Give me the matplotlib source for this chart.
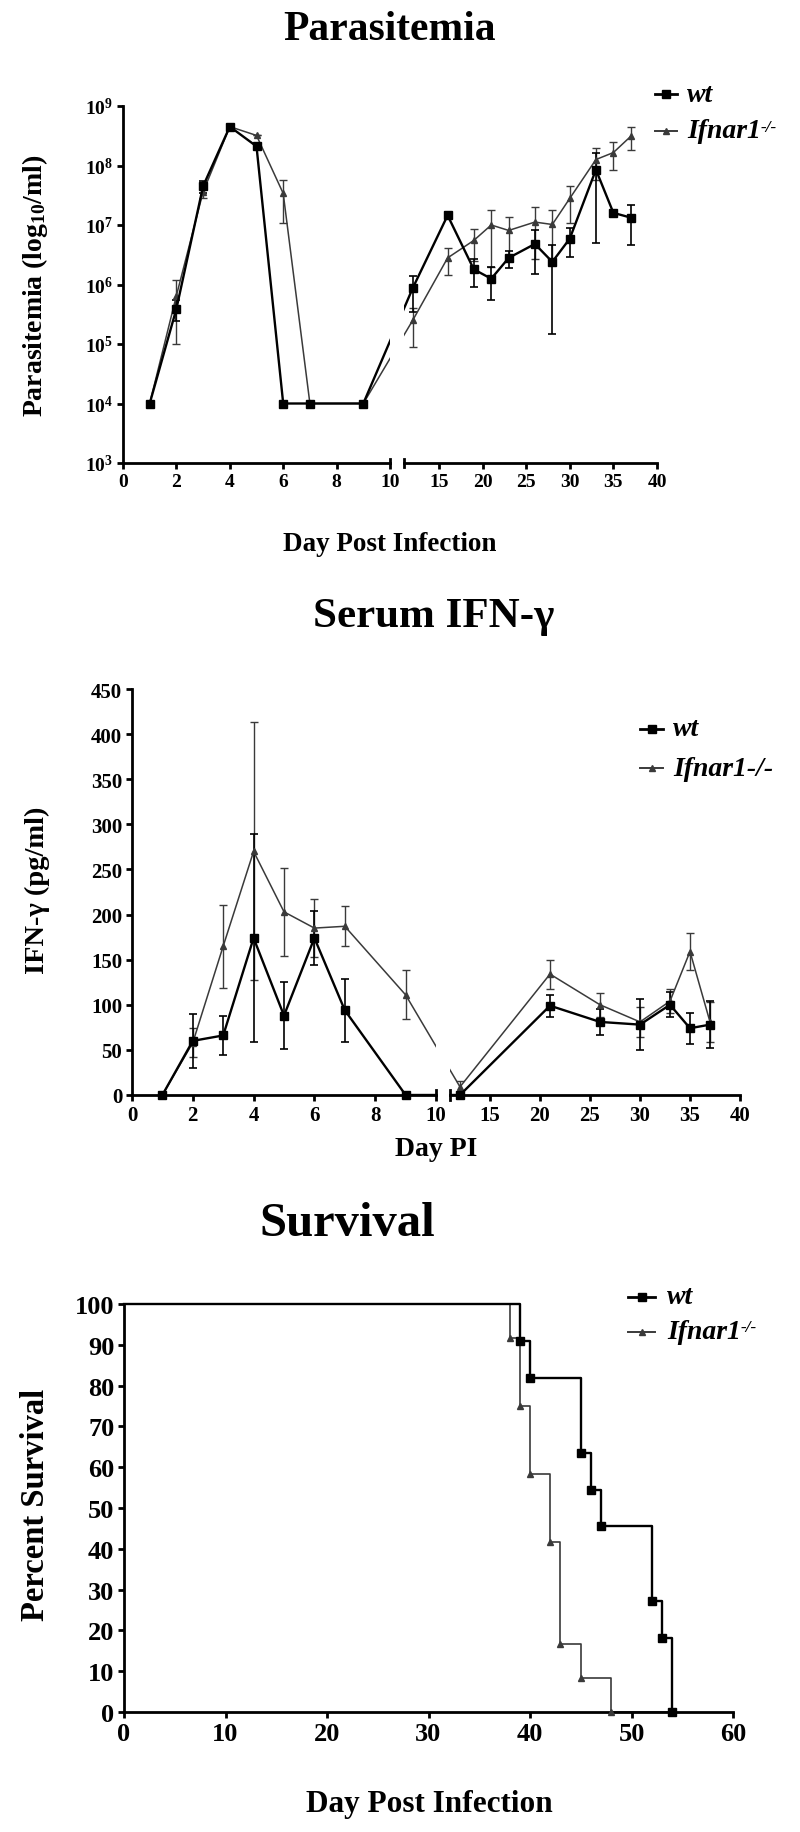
import matplotlib
matplotlib.use('Agg')
import matplotlib.pyplot as plt
from matplotlib.lines import Line2D

plt.rcParams['font.family'] = ['Liberation Serif', 'DejaVu Serif']
plt.rcParams['font.weight'] = 'bold'
plt.rcParams['mathtext.fontset'] = 'custom'
plt.rcParams['mathtext.rm'] = 'Liberation Serif:bold'
plt.rcParams['mathtext.it'] = 'Liberation Serif:bold:italic'
plt.rcParams['mathtext.bf'] = 'Liberation Serif:bold'
plt.rcParams['mathtext.default'] = 'rm'

# ---------------- data ----------------
series_names = ['wt', 'Ifnar1']

# Parasitemia (per ml), mean and SEM
para_days = [1, 2, 3, 4, 5, 6, 7, 9, 12, 16, 19, 21, 23, 26, 28, 30, 33, 35, 37]
para_wt = [1e4, 3.9e5, 4.5e7, 4.5e8, 2.1e8, 1e4, 1e4, 1e4, 8.7e5, 1.45e7, 1.8e6,
           1.25e6, 2.8e6, 4.8e6, 2.4e6, 5.9e6, 8.5e7, 1.6e7, 1.33e7]
para_wt_sem = [0, 1.5e5, 1e7, 0, 0, 0, 0, 0, 5.3e5, 2e6, 9e5, 7e5, 9e5, 3.3e6,
               2.25e6, 3e6, 8e7, 0, 8.7e6]
para_ko = [1e4, 6.5e5, 3.6e7, 4.5e8, 3.2e8, 3.4e7, 1e4, 1e4, 2.5e5, 2.8e6, 5.5e6,
           1e7, 8.1e6, 1.12e7, 1.02e7, 2.8e7, 1.26e8, 1.65e8, 3.1e8]
para_ko_sem = [0, 5.5e5, 8e6, 0, 0, 2.3e7, 0, 0, 1.6e5, 1.35e6, 3e6, 8e6, 5.5e6,
               8.5e6, 7.5e6, 1.7e7, 7e7, 8e7, 1.3e8]
para_ytick_exp = [3, 4, 5, 6, 7, 8, 9]

# Serum IFN-gamma (pg/ml), mean and SEM
ifn_days = [1, 2, 3, 4, 5, 6, 7, 9, 12, 21, 26, 30, 33, 35, 37]
ifn_wt = [0, 60, 66, 174, 88, 174, 94, 0, 0, 99, 81, 78, 100, 74, 78]
ifn_wt_sem = [0, 30, 22, 115, 37, 30, 35, 0, 0, 12, 14, 28, 14, 17, 26]
ifn_ko = [0, 58, 165, 270, 203, 185, 187, 111, 9, 134, 100, 81, 104, 159, 81]
ifn_ko_sem = [0, 16, 46, 143, 49, 32, 22, 27, 6, 16, 13, 17, 13, 21, 22]
ifn_yticks = [0, 50, 100, 150, 200, 250, 300, 350, 400, 450]

# Break axis ticks
left_xticks = [0, 2, 4, 6, 8, 10]
right_xticks = [15, 20, 25, 30, 35, 40]

# Survival (Kaplan-Meier steps)
surv_wt_days = [0, 39, 40, 45, 46, 47, 52, 53, 54]
surv_wt = [100, 90.9, 81.8, 63.6, 54.5, 45.5, 27.3, 18.2, 0]
surv_ko_days = [0, 38, 39, 40, 42, 43, 45, 48]
surv_ko = [100, 91.7, 75, 58.3, 41.7, 16.7, 8.3, 0]
surv_xticks = [0, 10, 20, 30, 40, 50, 60]
surv_yticks = [0, 10, 20, 30, 40, 50, 60, 70, 80, 90, 100]

# ---------------- styles ----------------
W, H = 800, 1833
fig = plt.figure(figsize=(W / 100, H / 100), dpi=100)

WT = dict(color='black', lw=1.7, marker='s', ms=5.5, mfc='black', mec='black')
KO = dict(color='#3a3a3a', lw=1.1, marker='^', ms=4.5, mfc='#3a3a3a', mec='#3a3a3a')


def rect(x0, x1, ytop, ybot):
    return [x0 / W, 1 - ybot / H, (x1 - x0) / W, (ybot - ytop) / H]


def style_axis(ax, tick_fs, left=True):
    for s in ['top', 'right']:
        ax.spines[s].set_visible(False)
    ax.spines['bottom'].set_linewidth(2)
    ax.spines['left'].set_linewidth(2)
    if not left:
        ax.spines['left'].set_visible(False)
        ax.tick_params(axis='y', left=False, labelleft=False)
    ax.tick_params(axis='both', direction='out', length=4, width=2,
                   labelsize=tick_fs, pad=3)
    ax.minorticks_off()
    for lab in ax.get_xticklabels() + ax.get_yticklabels():
        lab.set_fontweight('bold')


def draw_series(axL, axR, x, y, sem, st, elw, cap):
    xl = [a for a in x if a <= 10]
    n = len(xl)
    kw = dict(color=st['color'], lw=st['lw'], marker=st['marker'], ms=st['ms'],
              mfc=st['mfc'], mec=st['mec'], ecolor=st['color'], elinewidth=elw,
              capsize=cap, capthick=elw, clip_on=False, zorder=3)
    axL.errorbar(x[:n], y[:n], yerr=sem[:n], **kw)
    axR.errorbar(x[n:], y[n:], yerr=sem[n:], **kw)
    # connecting segment drawn straight on screen across the break
    pL = axL.transData.transform((x[n - 1], y[n - 1]))
    pR = axR.transData.transform((x[n], y[n]))
    rInL = axL.transData.inverted().transform(pR)
    lInR = axR.transData.inverted().transform(pL)
    axL.plot([x[n - 1], rInL[0]], [y[n - 1], rInL[1]], color=st['color'],
             lw=st['lw'], zorder=2)
    axR.plot([lInR[0], x[n]], [lInR[1], y[n]], color=st['color'],
             lw=st['lw'], zorder=2)


def break_marks(axL, axR):
    axL.add_line(Line2D([1, 1], [0, 0.012], transform=axL.transAxes, color='black',
                        lw=2, clip_on=False))
    axR.add_line(Line2D([0, 0], [-0.012, 0.012], transform=axR.transAxes,
                        color='black', lw=2, clip_on=False))


def legend(ax, x0, x1, xt, y1, y2, label2, sup, fs):
    for yy, st, lab, sp in [(y1, WT, 'wt', None), (y2, KO, label2, sup)]:
        yf = 1 - yy / H
        fig.add_artist(Line2D([x0 / W, x1 / W], [yf, yf], color=st['color'],
                              lw=st['lw'] + 0.3, transform=fig.transFigure))
        fig.add_artist(Line2D([(x0 + x1) / 2 / W], [yf], marker=st['marker'],
                              ms=st['ms'], color=st['color'],
                              transform=fig.transFigure))
        t = fig.text(xt / W, yf, lab, fontsize=fs, fontstyle='italic',
                     fontweight='bold', va='center', ha='left')
        if sp:
            ax.annotate(sp, xy=(1.0, 1.0), xycoords=t, ha='left', va='top',
                        fontsize=fs * 0.62, fontstyle='italic', fontweight='bold',
                        annotation_clip=False)


# ---------------- Panel 1: Parasitemia ----------------
a1L = fig.add_axes(rect(123, 390, 107, 464))
a1R = fig.add_axes(rect(404, 657, 107, 464))
for ax in (a1L, a1R):
    ax.set_yscale('log')
    ax.set_ylim(1e3, 1e9)
a1L.set_xlim(0, 10)
a1R.set_xlim(11, 40)
a1L.set_xticks(left_xticks)
a1R.set_xticks(right_xticks)
a1L.set_yticks([10.0 ** e for e in para_ytick_exp])
a1L.set_yticklabels(['$10^{%d}$' % e for e in para_ytick_exp])
style_axis(a1L, 14)
style_axis(a1R, 14, left=False)
a1R.yaxis.set_minor_locator(matplotlib.ticker.NullLocator())
a1L.yaxis.set_minor_locator(matplotlib.ticker.NullLocator())
draw_series(a1L, a1R, para_days, para_ko, para_ko_sem, KO, 1.0, 3)
draw_series(a1L, a1R, para_days, para_wt, para_wt_sem, WT, 1.2, 3)
break_marks(a1L, a1R)
fig.text(390 / W, 1 - 30 / H, 'Parasitemia', fontsize=30, fontweight='bold',
         ha='center', va='center')
fig.text(390 / W, 1 - 545 / H, 'Day Post Infection', fontsize=19.5,
         fontweight='bold', ha='center', va='center')
fig.text(35 / W, 1 - 286 / H, 'Parasitemia (log$_{10}$/ml)', fontsize=20,
         fontweight='bold', ha='center', va='center', rotation=90)
legend(a1R, 655, 677, 687, 95, 132, 'Ifnar1', '-/-', 20)

# ---------------- Panel 2: Serum IFN-gamma ----------------
a2L = fig.add_axes(rect(132, 436, 690, 1096))
a2R = fig.add_axes(rect(450, 740, 690, 1096))
for ax in (a2L, a2R):
    ax.set_ylim(0, 450)
a2L.set_xlim(0, 10)
a2R.set_xlim(11, 40)
a2L.set_xticks(left_xticks)
a2R.set_xticks(right_xticks)
a2L.set_yticks(ifn_yticks)
style_axis(a2L, 15)
style_axis(a2R, 15, left=False)
draw_series(a2L, a2R, ifn_days, ifn_ko, ifn_ko_sem, KO, 1.0, 3)
draw_series(a2L, a2R, ifn_days, ifn_wt, ifn_wt_sem, WT, 1.2, 3)
break_marks(a2L, a2R)
fig.text(434 / W, 1 - 617 / H, 'Serum IFN-γ', fontsize=31, fontweight='bold',
         ha='center', va='center')
fig.text(436 / W, 1 - 1150 / H, 'Day PI', fontsize=20, fontweight='bold',
         ha='center', va='center')
fig.text(37 / W, 1 - 890 / H, 'IFN-γ (pg/ml)', fontsize=20.5,
         fontweight='bold', ha='center', va='center', rotation=90)
legend(a2R, 640, 663, 673, 730, 769, 'Ifnar1-/-', None, 20)

# ---------------- Panel 3: Survival ----------------
a3 = fig.add_axes(rect(124, 733, 1305, 1713))
a3.step(surv_ko_days + [54], surv_ko + [0], where='post', color=KO['color'],
        lw=1.2, clip_on=False, zorder=2)
a3.plot(surv_ko_days[1:], surv_ko[1:], ls='none', marker='^', ms=4.5,
        color=KO['color'], clip_on=False, zorder=3)
a3.step(surv_wt_days, surv_wt, where='post', color='black', lw=1.7,
        clip_on=False, zorder=2)
a3.plot(surv_wt_days[1:], surv_wt[1:], ls='none', marker='s', ms=5.5,
        color='black', clip_on=False, zorder=4)
a3.set_xlim(0, 60)
a3.set_ylim(0, 100)
a3.set_xticks(surv_xticks)
a3.set_yticks(surv_yticks)
style_axis(a3, 19)
fig.text(347 / W, 1 - 1224 / H, 'Survival', fontsize=35, fontweight='bold',
         ha='center', va='center')
fig.text(429 / W, 1 - 1805 / H, 'Day Post Infection', fontsize=22.5,
         fontweight='bold', ha='center', va='center')
fig.text(36 / W, 1 - 1505 / H, 'Percent Survival', fontsize=23.5,
         fontweight='bold', ha='center', va='center', rotation=90)
legend(a3, 628, 655, 667, 1298, 1333, 'Ifnar1', '-/-', 20)

fig.savefig('out.png', dpi=100)
